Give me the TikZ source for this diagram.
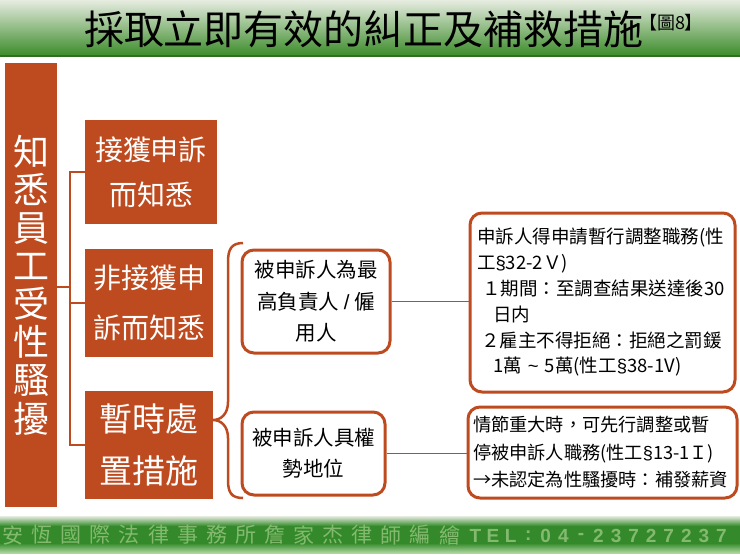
\documentclass[tikz,border=0pt]{standalone}
\usepackage{fontspec}
\setmainfont{Noto Sans CJK TC}
\newfontfamily\telfont{Liberation Sans}
\definecolor{rust}{RGB}{190,75,32}
\definecolor{leaf}{RGB}{58,138,40}
\definecolor{pale}{RGB}{230,236,224}
\definecolor{footgreen}{RGB}{52,138,42}
\definecolor{foottext}{RGB}{132,186,112}

\begin{document}
\begin{tikzpicture}[x = 1pt, y = -1pt,
 redbox/.style = {fill = rust, text = white, align = center, inner sep = 0pt},
 whitebox/.style = {draw = rust, line width = 3pt, rounded corners = 12pt, fill = white, inner sep = 0pt},
 conn/.style = {draw = rust, line width = 1.2pt},
 foot/.style = {text = foottext, inner sep = 0pt}]
 \useasboundingbox (0,0) rectangle (740,555);
 \fill[white] (0,0) rectangle (740,555);
 \shade[top color = pale, middle color = {rgb,255:red,185;green,212;blue,168}, bottom color = leaf] (0,0) rectangle (740,56);
 \draw[leaf!80!black, line width = 2pt] (0,56) -- (740,56);
 \node(title) at (364,29) {\fontsize{40}{40}\selectfont 採取立即有效的糾正及補救措施};
 \node(fig) at (671,23) {\fontsize{18}{18}\selectfont 【圖8】};

 \node[redbox, minimum width = 52pt, minimum height = 444pt, font = \fontsize{36}{38.1}\selectfont] (know) at (31,285)
 {知\\悉\\員\\工\\受\\性\\騷\\擾};
 \node[redbox, minimum width = 132pt, minimum height = 104pt, font = \fontsize{28}{45}\selectfont] (recv) at (151,172) {接獲申訴\\而知悉};
 \node[redbox, minimum width = 128pt, minimum height = 108pt, font = \fontsize{28}{50}\selectfont] (nonrecv) at (149,303) {非接獲申\\訴而知悉};
 \node[redbox, minimum width = 128pt, minimum height = 108pt, font = \fontsize{33}{52}\selectfont] (act) at (149,445) {暫時處\\置措施};

 \coordinate (fork) at (70,287);
 \draw[conn] (know.east |- fork) -- (fork);
 \draw[conn] (fork) |- (recv.west);
 \draw[conn] (fork) |- (nonrecv.west);
 \draw[conn] (fork) |- (act.west);

 \coordinate (tip) at (213,420);%括弧の先
 \draw[rust, line width = 2.5pt]
 (243,243) .. controls (231,243) and (228,250) .. (228,262)
 -- (228,402) .. controls (228,414) and (221,420) .. (tip)
 .. controls (221,420) and (228,426) .. (228,438)
 -- (228,480) .. controls (228,492) and (231,498) .. (243,498);

 \node[whitebox, minimum width = 148pt, minimum height = 103pt, align = center, font = \fontsize{20.5}{31.5}\selectfont] (chief) at (316,301.5)
 {被申訴人為最\\高負責人 {\telfont /} 僱\\用人};
 \node[whitebox, minimum width = 143pt, minimum height = 83pt, align = center, font = \fontsize{20.5}{31}\selectfont] (power) at (313.5,453.5)
 {被申訴人具權\\勢地位};

 \node[whitebox, text width = 251pt, inner xsep = 7pt, minimum height = 179pt, align = left, font = \fontsize{18.5}{25.8}\selectfont] (apply) at (602.5,302.5)
 {申訴人得申請暫行調整職務(性\\
 工{\telfont §}32-2Ｖ)\\
 \hspace*{5pt}１期間：至調查結果送達後30\\
 \hspace*{16pt}日内\\
 \hspace*{4pt}２雇主不得拒絕：拒絕之罰鍰\\
 \hspace*{16pt}1萬 {\telfont\textasciitilde} 5萬(性工{\telfont §}38-1V)};
 \node[whitebox, text width = 259pt, inner xsep = 5pt, minimum height = 91pt, align = left, font = \fontsize{18.2}{27.5}\selectfont] (support) at (602.5,452.5)
 {情節重大時，可先行調整或暫\\
 停被申訴人職務(性工{\telfont §}13-1Ｉ)\\
 →未認定為性騷擾時：補發薪資};

 \draw[conn] (chief.east) -- (chief.east -| apply.west);
 \draw[conn] (power.east) -- (power.east -| support.west);

 \fill[footgreen] (0,517) rectangle (740,552);
 \shade[top color = pale, bottom color = footgreen] (0,516) rectangle (740,526);
 \shade[top color = footgreen, bottom color = {rgb,255:red,175;green,215;blue,160}] (0,543) rectangle (740,553);
 \foreach \c [count = \i from 0] in {安,恆,國,際,法,律,事,務,所,詹,家,杰,律,師,編,繪}
  \node[foot, font = \fontsize{21}{21}\selectfont] (f\i) at (13+\i*29.1,535) {\c};
 \foreach \c [count = \i from 0] in {T,E,L,:,0,4,-,2,3,7,2,7,2,3,7}
  \node[foot, font = \telfont\bfseries\fontsize{19}{19}\selectfont] (t\i) at (475.5+\i*17.57,536) {\c};
\end{tikzpicture}
\end{document}
